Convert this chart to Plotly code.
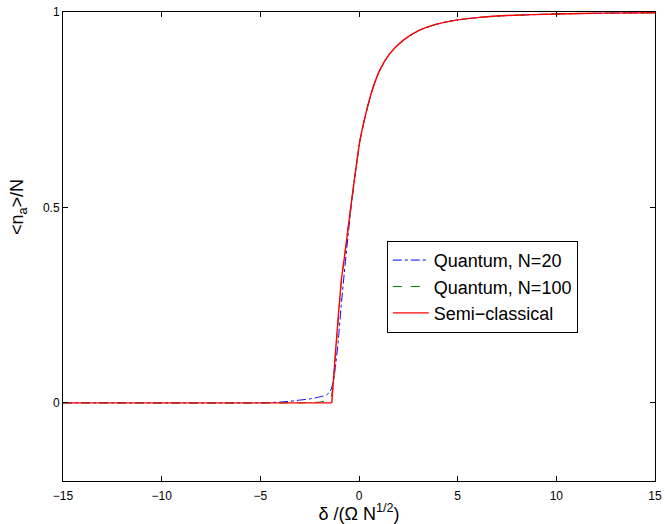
import plotly.graph_objects as go

# Semi-classical curve: flat part and rising part
delta_sc_flat = [-15, -1.38]
n_sc_flat = [0, 0]
delta_sc = [-1.38, -1.22, -1.05, -0.88, -0.745, -0.37, 0.05, 0.39, 0.67, 1.06, 1.57, 2.25,
            3.09, 3.94, 4.78, 5.5, 6.5, 7.5, 10, 12.5, 15]
n_sc = [0, 0.11, 0.22, 0.32, 0.37, 0.519, 0.672, 0.749, 0.80, 0.852, 0.894, 0.928,
        0.954, 0.969, 0.978, 0.983, 0.988, 0.991, 0.995, 0.997, 0.998]

# Quantum N=20
delta_q20 = [-15, -5, -4, -3.5, -3, -2.5, -2, -1.65, -1.45, -1.3, -1.2, -1.05, -0.9, -0.75,
             -0.55, -0.37, 0.05, 0.39, 0.67, 1.06, 1.57, 2.25, 3.09, 3.94, 4.78, 5.5, 6.5,
             7.5, 10, 12.5, 15]
n_q20 = [0, 0, 0.002, 0.004, 0.007, 0.01, 0.015, 0.02, 0.03, 0.055, 0.09, 0.16, 0.25, 0.33,
         0.43, 0.515, 0.670, 0.748, 0.80, 0.852, 0.894, 0.928, 0.954, 0.969, 0.978, 0.983, 0.988,
         0.991, 0.995, 0.997, 0.998]

# Quantum N=100
delta_q100 = [-15, -3, -2, -1.7, -1.5, -1.4, -1.32, -1.22, -1.05, -0.88, -0.745, -0.37, 0.05,
              0.39, 0.67, 1.06, 1.57, 2.25, 3.09, 3.94, 4.78, 5.5, 6.5, 7.5, 10, 12.5, 15]
n_q100 = [0, 0, 0.002, 0.005, 0.01, 0.017, 0.04, 0.105, 0.215, 0.318, 0.37, 0.519, 0.672,
          0.749, 0.80, 0.852, 0.894, 0.928, 0.954, 0.969, 0.978, 0.983, 0.988, 0.991, 0.995,
          0.997, 0.998]

x_ticks = [-15, -10, -5, 0, 5, 10, 15]
x_ticktext = ["\u221215", "\u221210", "\u22125", "0", "5", "10", "15"]
y_ticks = [0, 0.5, 1]
y_ticktext = ["0", "0.5", "1"]

FONT = "Liberation Sans, Arial, Helvetica, sans-serif"

fig = go.Figure()
fig.add_trace(go.Scatter(x=delta_q20, y=n_q20, mode="lines", name="Quantum, N=20",
                         line=dict(color="#0000ff", width=1, dash="dashdot", shape="spline",
                                   smoothing=0.6)))
fig.add_trace(go.Scatter(x=delta_q100, y=n_q100, mode="lines", name="Quantum, N=100",
                         line=dict(color="#008000", width=1, dash="dash", shape="spline",
                                   smoothing=0.6)))
fig.add_trace(go.Scatter(x=delta_sc_flat, y=n_sc_flat, mode="lines", name="Semi\u2212classical",
                         legendgroup="sc", showlegend=False,
                         line=dict(color="#ff0000", width=1.4)))
fig.add_trace(go.Scatter(x=delta_sc, y=n_sc, mode="lines", name="Semi\u2212classical",
                         legendgroup="sc",
                         line=dict(color="#ff0000", width=1.4, shape="spline", smoothing=0.6)))

axis_common = dict(showline=True, linecolor="black", linewidth=1, mirror="ticks",
                   ticks="inside", ticklen=5, tickcolor="black", tickwidth=1,
                   showgrid=False, zeroline=False, automargin=False,
                   tickfont=dict(family=FONT, size=12, color="black"))

fig.update_xaxes(range=[-15, 15], tickvals=x_ticks, ticktext=x_ticktext,
                 ticklabelstandoff=4,
                 title=dict(text="\u03b4 /(\u03a9 N<sup>1/2</sup>)", standoff=5,
                            font=dict(family=FONT, size=18, color="black")),
                 **axis_common)
fig.update_yaxes(range=[-0.2, 1], tickvals=y_ticks, ticktext=y_ticktext,
                 **axis_common)

fig.add_annotation(text="&lt;n<sub>a</sub>&gt;/N", xref="paper", yref="paper",
                   x=-0.076, y=0.584, xanchor="center", yanchor="middle",
                   textangle=-90, showarrow=False,
                   font=dict(family=FONT, size=18, color="black"))

fig.update_layout(
    width=665, height=524,
    margin=dict(l=63, r=10, t=12, b=43),
    paper_bgcolor="white", plot_bgcolor="white",
    font=dict(family=FONT, color="black"),
    legend=dict(x=0.547, y=0.512, xanchor="left", yanchor="top",
                bgcolor="white", bordercolor="black", borderwidth=1,
                font=dict(family=FONT, size=18, color="black"),
                itemwidth=36, tracegroupgap=0, traceorder="normal"),
    showlegend=True,
)

fig.write_html("out.html")
